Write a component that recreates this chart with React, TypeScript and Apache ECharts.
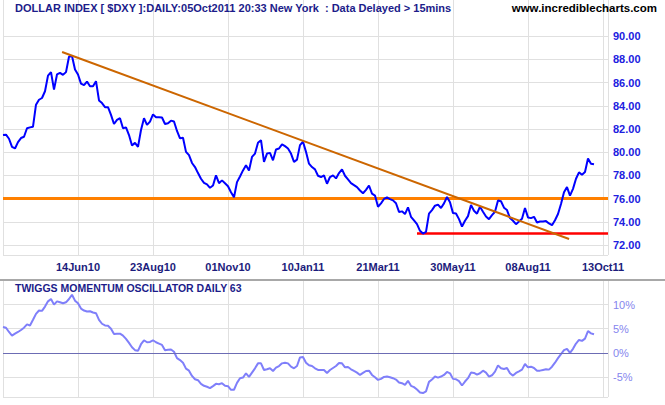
import React, { useEffect, useRef } from "react";
import * as echarts from "echarts";

// ---- data (one value per two trading days, from ~6 Apr 2010 to 5 Oct 2011) ----
const dateLabels = ["14Jun10", "23Aug10", "01Nov10", "10Jan11", "21Mar11", "30May11", "08Aug11", "13Oct11"];

const priceValues = [
  81.48, 81.51, 81.16, 80.46, 80.32, 80.87, 81.22, 81.33, 82.06, 82.14,
  82.2, 84.09, 84.52, 84.67, 85.25, 86.6, 86.9, 85.39, 86.7, 86.84,
  86.67, 86.9, 88.23, 88.29, 87.13, 86.7, 85.91, 85.77, 86.09, 85.68,
  85.68, 86.12, 84.46, 84.23, 83.88, 83.88, 83.22, 82.43, 82.78, 82.93,
  82.06, 82.14, 81.48, 80.58, 80.81, 80.46, 81.91, 82.93, 82.35, 82.64,
  83.25, 83.01, 83.01, 82.99, 82.43, 82.49, 82.72, 82.64, 81.83, 81.19,
  81.25, 80.03, 79.74, 79.07, 78.72, 78.2, 77.71, 77.36, 77.22, 76.93,
  77.13, 78.0, 77.33, 77.57, 77.33, 77.07, 76.55, 76.12, 77.42, 77.91,
  78.43, 78.87, 78.43, 79.59, 79.88, 80.81, 81.04, 79.16, 79.88, 79.94,
  79.3, 80.23, 80.32, 80.67, 80.52, 80.32, 79.88, 79.16, 79.36, 80.61,
  80.9, 80.03, 79.01, 78.72, 78.52, 77.97, 77.86, 78.0, 77.28, 77.86,
  78.0, 77.74, 78.2, 78.52, 77.97, 77.65, 77.33, 77.16, 76.99, 76.7,
  76.46, 76.75, 77.13, 76.43, 76.26, 75.3, 75.59, 75.97, 76.1, 75.95,
  75.85, 75.6, 74.85, 74.9, 74.67, 75.25, 74.43, 74.12, 73.8, 73.22,
  72.99, 73.13, 74.7, 75.01, 75.39, 75.48, 75.19, 75.59, 76.14, 75.68,
  74.75, 74.72, 74.23, 73.59, 74.09, 74.49, 75.45, 74.96, 74.7, 75.3,
  74.87, 74.46, 74.23, 74.58, 74.87, 75.83, 75.77, 75.22, 75.01, 74.32,
  74.09, 73.8, 74.03, 74.26, 75.19, 74.38, 74.32, 74.43, 73.94, 74.03,
  74.03, 74.06, 73.86, 73.71, 74.14, 74.67, 75.54, 76.55, 76.99, 76.26,
  76.84, 77.71, 78.26, 78.06, 78.29, 79.45, 79.01, 78.96,
];

const oscillatorValues = [
  5.34, 5.2, 4.32, 3.56, 3.97, 4.32, 4.73, 5.21, 5.89, 5.68,
  6.85, 8.08, 8.77, 8.7, 9.59, 10.68, 11.16, 10.0, 10.68, 10.48,
  10.27, 10.48, 11.16, 12.05, 10.82, 10.27, 9.18, 8.77, 8.56, 8.63,
  8.36, 8.22, 6.85, 6.03, 5.68, 5.62, 5.0, 3.9, 3.97, 3.97,
  3.56, 2.88, 2.05, 1.16, 0.55, 0.41, 1.78, 2.6, 2.19, 2.26,
  2.6, 2.19, 1.92, 1.64, 0.55, 0.62, 0.68, 0.21, -1.1, -1.51,
  -2.05, -3.29, -3.7, -4.79, -5.48, -5.68, -6.44, -6.85, -7.05, -7.33,
  -6.92, -6.44, -6.51, -6.3, -6.85, -6.92, -7.67, -7.67, -6.23, -5.27,
  -5.14, -4.25, -5.0, -4.11, -3.22, -2.19, -2.19, -3.56, -3.42, -3.22,
  -3.77, -3.08, -2.74, -2.19, -2.05, -2.19, -2.88, -3.22, -2.74, -0.96,
  -0.89, -2.05, -2.6, -2.74, -3.22, -3.56, -3.56, -3.56, -4.18, -3.56,
  -3.15, -2.74, -2.12, -2.19, -3.01, -2.95, -3.42, -3.77, -4.11, -4.59,
  -4.18, -3.77, -3.7, -4.59, -5.07, -5.62, -5.41, -5.0, -4.93, -5.07,
  -5.27, -5.55, -6.16, -6.3, -6.64, -5.82, -6.85, -7.12, -7.6, -8.22,
  -8.36, -8.01, -6.03, -5.55, -4.93, -5.14, -4.93, -4.59, -3.97, -4.25,
  -5.41, -5.48, -5.89, -6.78, -5.96, -5.27, -4.11, -4.18, -4.52, -4.25,
  -3.7, -4.11, -4.93, -4.66, -3.9, -2.6, -3.22, -3.36, -3.15, -4.25,
  -4.73, -4.18, -3.84, -3.49, -2.33, -3.01, -2.88, -3.15, -3.7, -3.7,
  -3.56, -3.42, -3.49, -2.88, -2.05, -1.1, -0.27, 0.55, 0.82, 0.0,
  0.82, 1.92, 2.67, 2.47, 2.95, 4.52, 4.04, 3.84,
];

// trend line (slot, value) end points, support and floor levels
const trendLineStart = [19.7, 88.64];
const trendLineEnd = [188.7, 72.52];
const supportLevel = 76.0;
const floorLevel = 73.0;
const floorStartSlot = 138;

// ---- layout ----
const SLOT_MAX = 201.67;
const LABEL_STEP = 25;
const FONT = "'Liberation Sans', Arial, Helvetica, sans-serif";
const GRID_COLOR = "#e0e0e0";

function dateLabel(v: number): string {
  const k = Math.round(v / LABEL_STEP) - 1;
  if (Math.abs(v - (k + 1) * LABEL_STEP) > 0.01) return "";
  return k >= 0 && k < dateLabels.length ? dateLabels[k] : "";
}

function xAxisBase(gridIndex: number, showLabels: boolean) {
  return {
    type: "value",
    gridIndex,
    min: 0,
    max: SLOT_MAX,
    interval: LABEL_STEP,
    axisLine: { show: false },
    axisTick: { show: false },
    splitLine: { show: true, lineStyle: { color: GRID_COLOR, width: 1 } },
    axisLabel: showLabels
      ? {
          show: true,
          showMinLabel: false,
          showMaxLabel: false,
          margin: 6,
          color: "#1c1c7c",
          fontFamily: FONT,
          fontWeight: "bold",
          fontSize: 11,
          formatter: (v: number) => dateLabel(v),
        }
      : { show: false },
  };
}

export default function App() {
  const ref = useRef<HTMLDivElement>(null);

  useEffect(() => {
    if (!ref.current) return;
    const chart = echarts.init(ref.current, undefined, { renderer: "svg" });

    const option = {
      animation: false,
      backgroundColor: "#ffffff",
      grid: [
        { left: 3, width: 605, top: 22, height: 233 },
        { left: 3, width: 605, top: 281, height: 116 },
        { left: 3, width: 605, top: 0, height: 22 },
      ],
      xAxis: [xAxisBase(0, true), xAxisBase(1, false), xAxisBase(2, false)],
      yAxis: [
        {
          type: "value",
          gridIndex: 0,
          position: "right",
          min: 71.14,
          max: 91.22,
          splitNumber: 10,
          minInterval: 2,
          maxInterval: 2,
          axisLine: { show: true, lineStyle: { color: GRID_COLOR } },
          axisTick: { show: false },
          splitLine: { show: true, showMaxLine: false, lineStyle: { color: GRID_COLOR } },
          axisLabel: {
            showMinLabel: false,
            showMaxLabel: false,
            margin: 5,
            color: "#2020e0",
            fontFamily: FONT,
            fontWeight: "bold",
            fontSize: 11,
            formatter: (v: number) => v.toFixed(2),
          },
        },
        {
          type: "value",
          gridIndex: 1,
          position: "right",
          min: -9.17,
          max: 14.9,
          splitNumber: 5,
          minInterval: 5,
          maxInterval: 5,
          axisLine: { show: true, lineStyle: { color: GRID_COLOR } },
          axisTick: { show: false },
          splitLine: { show: true, showMaxLine: false, lineStyle: { color: GRID_COLOR } },
          axisLabel: {
            showMinLabel: false,
            showMaxLabel: false,
            margin: 5,
            color: "#8585ee",
            fontFamily: FONT,
            fontSize: 11,
            formatter: (v: number) => `${v}%`,
          },
        },
        { type: "value", gridIndex: 2, min: 0, max: 1, show: false },
      ],
      series: [
        {
          name: "support",
          type: "line",
          xAxisIndex: 0,
          yAxisIndex: 0,
          data: [
            [0, supportLevel],
            [SLOT_MAX, supportLevel],
          ],
          showSymbol: false,
          lineStyle: { color: "#ff8000", width: 3 },
          z: 2,
        },
        {
          name: "floor",
          type: "line",
          xAxisIndex: 0,
          yAxisIndex: 0,
          data: [
            [floorStartSlot, floorLevel],
            [SLOT_MAX, floorLevel],
          ],
          showSymbol: false,
          lineStyle: { color: "#ff0000", width: 2.5 },
          z: 2,
        },
        {
          name: "DXY",
          type: "line",
          xAxisIndex: 0,
          yAxisIndex: 0,
          data: priceValues.map((v, i) => [i, v]),
          showSymbol: false,
          lineStyle: { color: "#0000ff", width: 2 },
          z: 3,
        },
        {
          name: "trend",
          type: "line",
          xAxisIndex: 0,
          yAxisIndex: 0,
          data: [trendLineStart, trendLineEnd],
          showSymbol: false,
          lineStyle: { color: "#cc6600", width: 2 },
          z: 4,
        },
        {
          name: "Twiggs Momentum",
          type: "line",
          xAxisIndex: 1,
          yAxisIndex: 1,
          data: oscillatorValues.map((v, i) => [i, v]),
          showSymbol: false,
          lineStyle: { color: "#7f7ffa", width: 2 },
          z: 3,
          markLine: {
            silent: true,
            symbol: "none",
            label: { show: false },
            lineStyle: { color: "#6c6cb4", width: 1, type: "solid" },
            data: [{ yAxis: 0 }],
          },
        },
      ],
      graphic: [
        {
          type: "rect",
          shape: { x: 0, y: 279, width: 665, height: 2 },
          style: { fill: "#a8a8a8" },
          z: 10,
        },
        {
          type: "text",
          left: 15,
          top: 2,
          style: {
            text: "DOLLAR INDEX [ $DXY ]:DAILY:05Oct2011 20:33 New York  : Data Delayed > 15mins",
            font: `bold 11px ${FONT}`,
            fill: "#1c1c8a",
          },
          z: 10,
        },
        {
          type: "text",
          right: 8,
          top: 2,
          style: {
            text: "www.incrediblecharts.com",
            font: `bold 11.5px ${FONT}`,
            fill: "#000000",
          },
          z: 10,
        },
        {
          type: "text",
          left: 15,
          top: 282,
          style: {
            text: "TWIGGS MOMENTUM OSCILLATOR DAILY 63",
            font: `bold 10.5px ${FONT}`,
            fill: "#1c1c8a",
          },
          z: 10,
        },
      ],
    };

    chart.setOption(option as any);
    return () => chart.dispose();
  }, []);

  return (
    <div
      ref={ref}
      style={{ position: "fixed", left: 0, top: 0, width: 665, height: 405, background: "#fff" }}
    />
  );
}
